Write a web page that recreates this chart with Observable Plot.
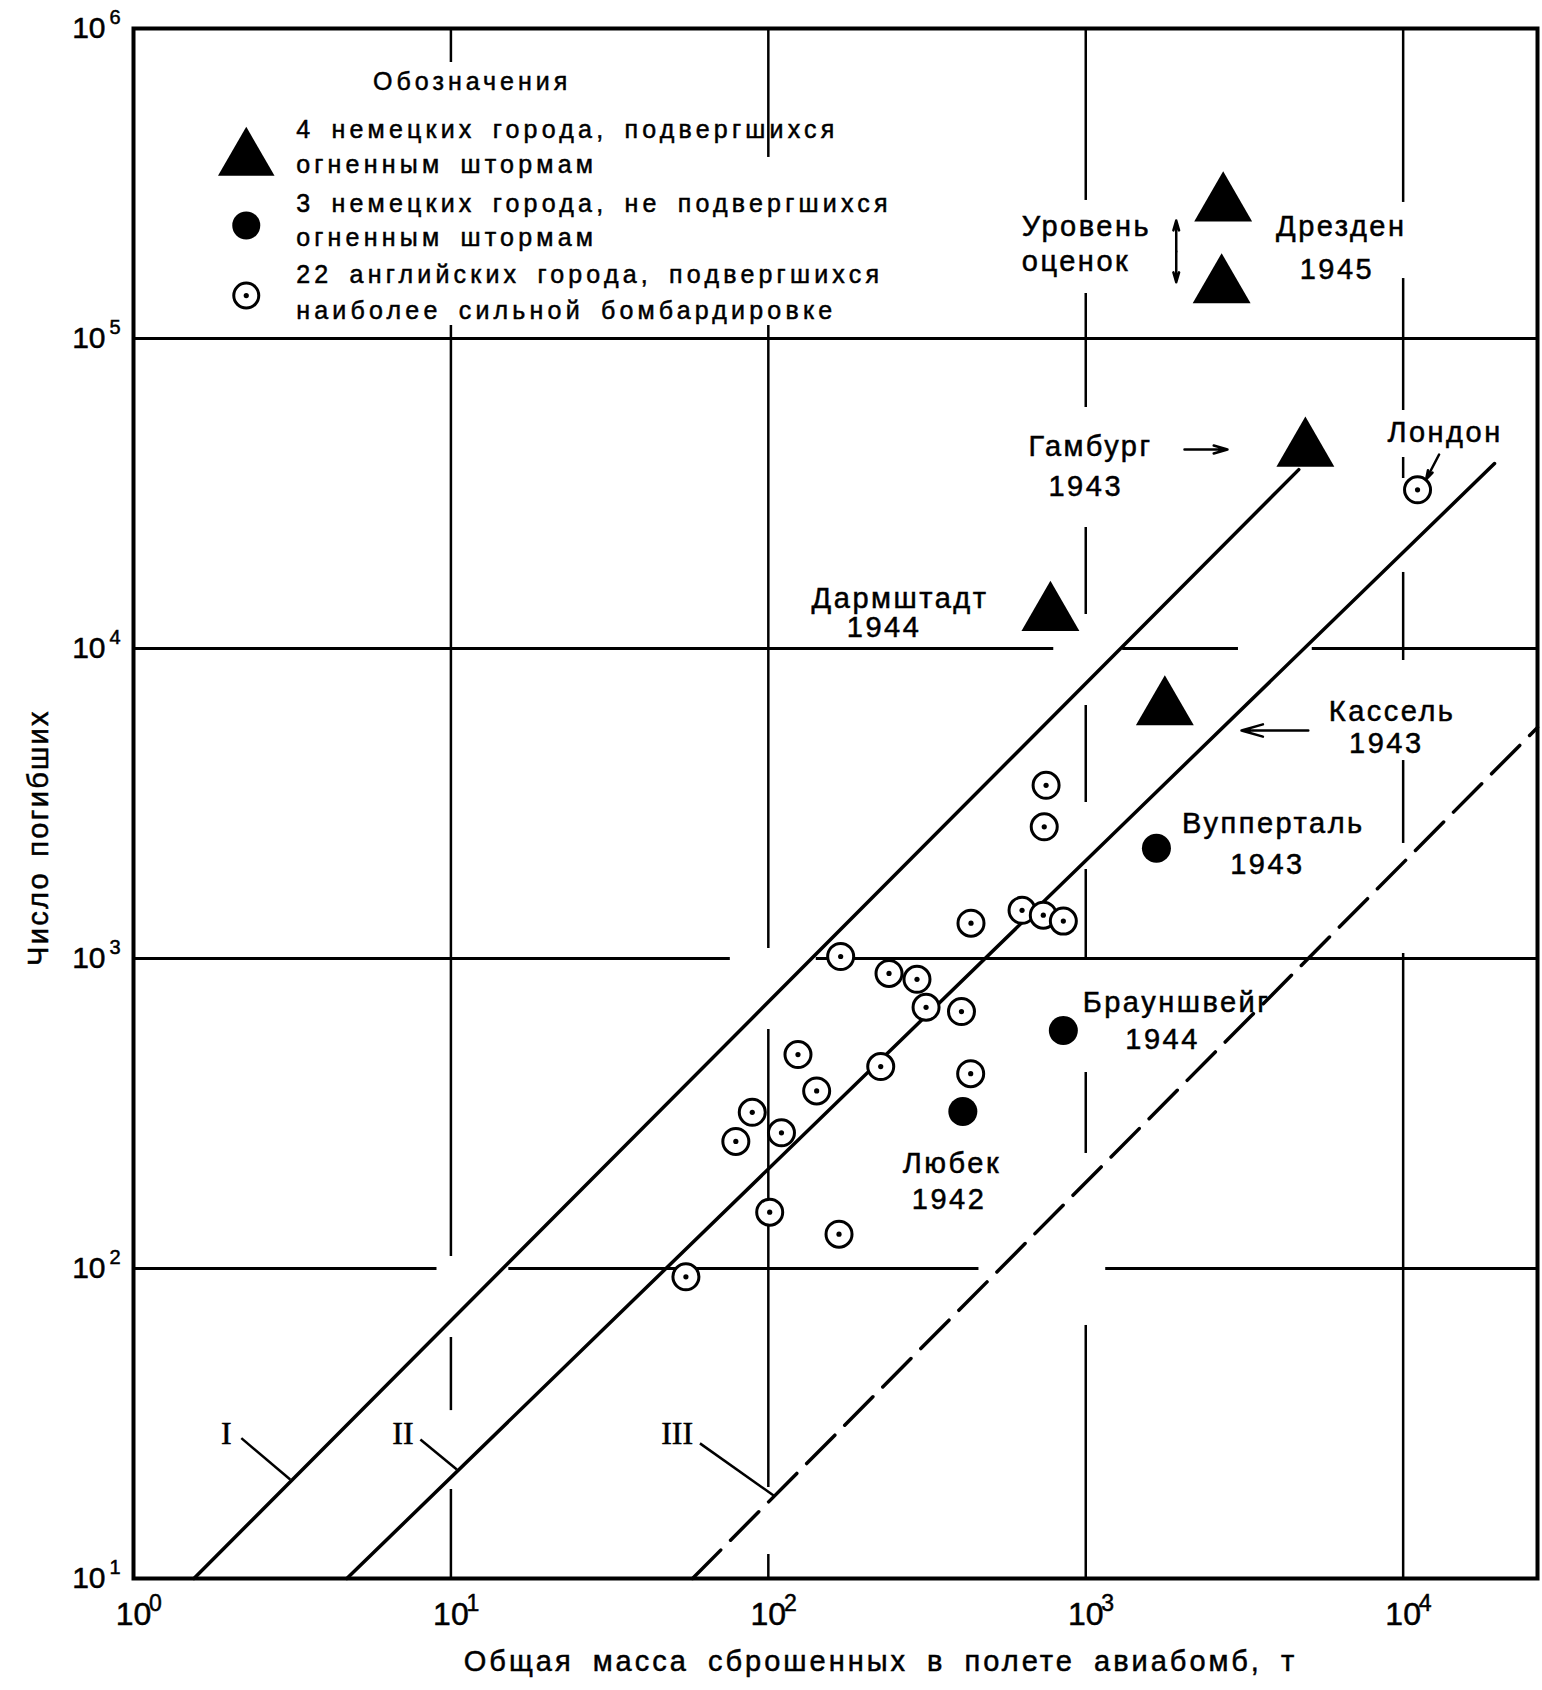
<!DOCTYPE html>
<html>
<head>
<meta charset="utf-8">
<script src="https://cdn.jsdelivr.net/npm/d3@7"></script>
<script src="https://cdn.jsdelivr.net/npm/@observablehq/plot@0.6"></script>
<style>
  body { margin: 0; background: #fff; }
  #chart svg { font-family: "Liberation Sans", Arial, sans-serif; display: block; }
  #chart svg text { stroke: black; stroke-width: 0.5px; }
  g[aria-description="legend"] text { letter-spacing: 4.2px; word-spacing: 6px; }
  g[aria-description="legend-title"] text { letter-spacing: 4px; }
  g[aria-description="labels"] text { letter-spacing: 2.5px; }
  g[aria-description="xlabel"] text { letter-spacing: 3px; word-spacing: 8px; }
  g[aria-description="ylabel"] text { letter-spacing: 2.3px; word-spacing: 4px; }
</style>
</head>
<body>
<div id="chart"></div>
<script>
// ---- axes ----
const xTicks = [1, 10, 100, 1000, 10000];
const yTicks = [10, 100, 1000, 10000, 100000, 1000000];
const xDomain = [1, 26500];
const yDomain = [10, 1000000];

// ---- data: tonnage dropped (t) vs deaths ----
// 4 German cities with firestorms (Dresden: two estimates)
const firestormCities = [
  {city: "Гамбург", tons: 4920, deaths: 43700},
  {city: "Дармштадт", tons: 774, deaths: 12900},
  {city: "Кассель", tons: 1775, deaths: 6400},
  {city: "Дрезден (верхняя оценка)", tons: 2710, deaths: 270000},
  {city: "Дрезден (нижняя оценка)", tons: 2680, deaths: 147000}
];
// 3 German cities without firestorms
const nonFirestormCities = [
  {city: "Вупперталь", tons: 1670, deaths: 2270},
  {city: "Брауншвейг", tons: 850, deaths: 586},
  {city: "Любек", tons: 410, deaths: 321}
];
// 22 English cities
const englishTons   = [750, 740, 435, 630, 735, 850, 169, 240, 294, 314, 406, 124, 226, 434, 142, 89, 110, 79, 101, 167, 55, 11100];
const englishDeaths = [3620, 2660, 1300, 1430, 1380, 1320, 1015, 895, 857, 696, 674, 490, 448, 425, 374, 319, 274, 257, 152, 129, 94, 32500];
const englishCities = englishTons.map((t, i) => ({tons: t, deaths: englishDeaths[i]}));

// reference lines I, II, III (end points)
const lineI   = [{tons: 1.55, deaths: 10}, {tons: 4690, deaths: 37760}];
const lineII  = [{tons: 4.7, deaths: 10}, {tons: 19400, deaths: 39500}];
const lineIII = [{tons: 57.7, deaths: 10}, {tons: 26500, deaths: 5560}];

// grid line pieces (broken around labels and lines, as in the original)
const vGrid = [
  {x: 10, y1: 1000000, y2: 776700}, {x: 10, y1: 110100, y2: 109.3}, {x: 10, y1: 59.9, y2: 34.8}, {x: 10, y1: 19.37, y2: 10},
  {x: 100, y1: 1000000, y2: 383700}, {x: 100, y1: 110100, y2: 1077}, {x: 100, y1: 590, y2: 19.66}, {x: 100, y1: 11.95, y2: 10},
  {x: 1000, y1: 1000000, y2: 278800}, {x: 1000, y1: 139700, y2: 59900}, {x: 1000, y1: 24570, y2: 12870},
  {x: 1000, y1: 6548, y2: 3186}, {x: 1000, y1: 1937, y2: 1000}, {x: 1000, y1: 428.8, y2: 235}, {x: 1000, y1: 65.5, y2: 10},
  {x: 10000, y1: 1000000, y2: 274700}, {x: 10000, y1: 156100, y2: 58570}, {x: 10000, y1: 41320, y2: 35350},
  {x: 10000, y1: 17590, y2: 9147}, {x: 10000, y1: 4351, y2: 2350}, {x: 10000, y1: 1038, y2: 10}
];
const hGrid = [
  {y: 100000, x1: 1, x2: 26500},
  {y: 10000, x1: 1, x2: 793}, {y: 10000, x1: 1307, x2: 3028}, {y: 10000, x1: 5172, x2: 26500},
  {y: 1000, x1: 1, x2: 75.9}, {y: 1000, x1: 141.6, x2: 26500},
  {y: 100, x1: 1, x2: 9.04}, {y: 100, x1: 15.22, x2: 460.9}, {y: 100, x1: 1156, x2: 26500}
];

// annotations
const cityLabels = [
  {text: "Гамбург", x: 1035, y: 41930},
  {text: "1943", x: 1000, y: 31150},
  {text: "Лондон", x: 13550, y: 46530},
  {text: "Дармштадт", x: 260, y: 13490},
  {text: "1944", x: 231.6, y: 10880},
  {text: "Кассель", x: 9230, y: 5857},
  {text: "1943", x: 8850, y: 4618},
  {text: "Вупперталь", x: 3901, y: 2531},
  {text: "1943", x: 3735, y: 1880},
  {text: "Брауншвейг", x: 1932, y: 674},
  {text: "1944", x: 1746, y: 509},
  {text: "Любек", x: 379, y: 204},
  {text: "1942", x: 371, y: 156},
  {text: "Дрезден", x: 6383, y: 214900},
  {text: "1945", x: 6186, y: 156100}
];
const estimateLabels = [
  {text: "Уровень", x: 629, y: 214900},
  {text: "оценок", x: 629, y: 165700}
];
const arrows = [
  {x1: 2047, y1: 43850, x2: 2796, y2: 43850},
  {x1: 5025, y1: 5438, x2: 3095, y2: 5438},
  {x1: 12980, y1: 42250, x2: 11810, y2: 35090},
  {x1: 1928, y1: 191000, x2: 1928, y2: 240200},
  {x1: 1928, y1: 191000, x2: 1928, y2: 151900}
];
const lineNames = [
  {text: "I", x: 1.961, y: 27.2},
  {text: "II", x: 7.063, y: 27.2},
  {text: "III", x: 51.6, y: 27.2}
];
const lineLeaders = [
  {x1: 2.186, y1: 28.36, x2: 3.117, y2: 20.86},
  {x1: 8.013, y1: 28.08, x2: 10.44, y2: 22.47},
  {x1: 60.9, y1: 27.28, x2: 103.9, y2: 18.52}
];

// legend
const legendTitle = [{text: "Обозначения", x: 5.685, y: 635600}];
const legendLines = [
  {text: "4 немецких города, подвергшихся", x: 3.255, y: 444900},
  {text: "огненным штормам", x: 3.255, y: 340700},
  {text: "3 немецких города, не подвергшихся", x: 3.255, y: 255000},
  {text: "огненным штормам", x: 3.255, y: 199500},
  {text: "22 английских города, подвергшихся", x: 3.255, y: 150500},
  {text: "наиболее сильной бомбардировке", x: 3.255, y: 116000}
];
const legendTriangle = [{x: 2.266, y: 378000}];
const legendDot = [{x: 2.266, y: 231500}];
const legendCircle = [{x: 2.266, y: 137600}];

const xTitle = "Общая масса сброшенных в полете авиабомб, т";
const yTitle = "Число погибших";

const expo = d => String(Math.round(Math.log10(d)));

const chart = Plot.plot({
  width: 1542,
  height: 1690,
  marginLeft: 133,
  marginRight: 5,
  marginTop: 28,
  marginBottom: 112,
  x: {type: "log", domain: xDomain, axis: null},
  y: {type: "log", domain: yDomain, axis: null},
  style: {fontFamily: "Liberation Sans, Arial, sans-serif", color: "black", background: "white"},
  marks: [
    // grid
    Plot.ruleX(vGrid, {x: "x", y1: "y1", y2: "y2", strokeWidth: 2.5, stroke: "black"}),
    Plot.ruleY(hGrid, {y: "y", x1: "x1", x2: "x2", strokeWidth: 3, stroke: "black"}),
    Plot.frame({strokeWidth: 4, stroke: "black"}),
    // axes (10 with exponent)
    Plot.axisX(xTicks, {anchor: "bottom", tickSize: 0, tickPadding: 24, tickFormat: () => "10", fontSize: 32, label: null}),
    Plot.axisX(xTicks, {anchor: "bottom", tickSize: 0, tickPadding: 16, tickFormat: expo, fontSize: 23, dx: 22, label: null}),
    Plot.axisY(yTicks, {anchor: "left", tickSize: 0, tickPadding: 28, tickFormat: () => "10", fontSize: 30, label: null}),
    Plot.axisY(yTicks, {anchor: "left", tickSize: 0, tickPadding: 28, tickFormat: expo, fontSize: 20, dx: 15, dy: -11, label: null}),
    // axis titles
    Plot.text([xTitle], {frameAnchor: "bottom", text: d => d, textAnchor: "middle", dx: 45, dy: 92, lineAnchor: "bottom", fontSize: 29, ariaDescription: "xlabel"}),
    Plot.text([yTitle], {frameAnchor: "left", text: d => d, textAnchor: "middle", rotate: -90, dx: -95, dy: 34, fontSize: 29, ariaDescription: "ylabel"}),
    // reference lines
    Plot.line(lineI, {x: "tons", y: "deaths", strokeWidth: 3.5, stroke: "black"}),
    Plot.line(lineII, {x: "tons", y: "deaths", strokeWidth: 3.5, stroke: "black"}),
    Plot.line(lineIII, {x: "tons", y: "deaths", strokeWidth: 3.5, stroke: "black", strokeDasharray: "40,14"}),
    Plot.link(lineLeaders, {x1: "x1", y1: "y1", x2: "x2", y2: "y2", strokeWidth: 2.5, stroke: "black"}),
    Plot.text(lineNames, {x: "x", y: "y", text: "text", fontFamily: "Liberation Serif, serif", fontSize: 32, lineAnchor: "bottom"}),
    // data points
    Plot.dot(englishCities, {x: "tons", y: "deaths", r: 13, fill: "white", stroke: "black", strokeWidth: 3}),
    Plot.dot(englishCities, {x: "tons", y: "deaths", r: 2.6, fill: "black"}),
    Plot.dot(nonFirestormCities, {x: "tons", y: "deaths", r: 14.5, fill: "black"}),
    Plot.dot(firestormCities, {x: "tons", y: "deaths", symbol: "triangle", r: 21.5, fill: "black"}),
    // annotations
    Plot.text(cityLabels, {x: "x", y: "y", text: "text", fontSize: 29, lineAnchor: "bottom", ariaDescription: "labels"}),
    Plot.text(estimateLabels, {x: "x", y: "y", text: "text", fontSize: 29, lineAnchor: "bottom", textAnchor: "start", ariaDescription: "labels"}),
    Plot.arrow(arrows, {x1: "x1", y1: "y1", x2: "x2", y2: "y2", strokeWidth: 2.5, stroke: "black", headLength: 16, headAngle: 32}),
    // legend
    Plot.text(legendTitle, {x: "x", y: "y", text: "text", fontSize: 25, lineAnchor: "bottom", textAnchor: "start", ariaDescription: "legend-title"}),
    Plot.text(legendLines, {x: "x", y: "y", text: "text", fontSize: 25, lineAnchor: "bottom", textAnchor: "start", ariaDescription: "legend"}),
    Plot.dot(legendTriangle, {x: "x", y: "y", symbol: "triangle", r: 21, fill: "black"}),
    Plot.dot(legendDot, {x: "x", y: "y", r: 14, fill: "black"}),
    Plot.dot(legendCircle, {x: "x", y: "y", r: 12.5, fill: "white", stroke: "black", strokeWidth: 3}),
    Plot.dot(legendCircle, {x: "x", y: "y", r: 2.6, fill: "black"})
  ]
});
document.getElementById("chart").append(chart);
</script>
</body>
</html>
